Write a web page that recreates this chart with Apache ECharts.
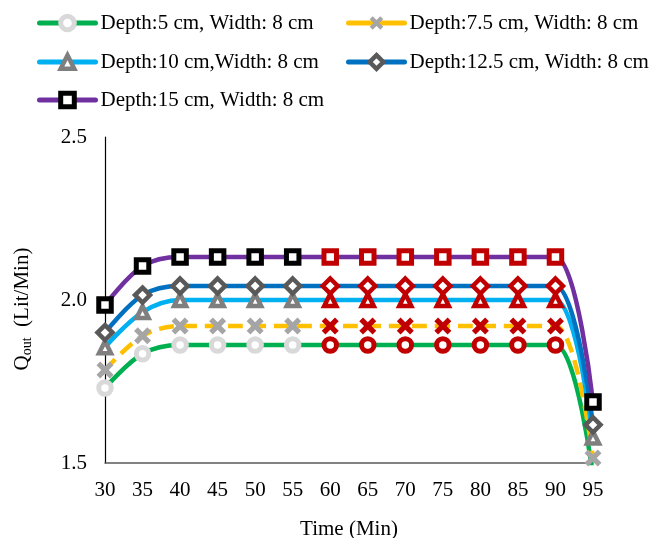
<!DOCTYPE html>
<html>
<head>
<meta charset="utf-8">
<script src="https://cdn.jsdelivr.net/npm/echarts@6/dist/echarts.min.js"></script>
<style>
  html, body { margin: 0; padding: 0; background: #fff; }
  #chart { width: 649px; height: 538px; }
</style>
</head>
<body>
<div id="chart"></div>
<script>
// Time axis categories (minutes)
const timeLabels = ['30', '35', '40', '45', '50', '55', '60', '65', '70', '75', '80', '85', '90', '95'];

// Outflow Q_out (Lit/Min) for each depth, channel width 8 cm
const depth5 = [1.73, 1.835, 1.862, 1.862, 1.862, 1.862, 1.862, 1.862, 1.862, 1.862, 1.862, 1.862, 1.862, 1.46];
const depth7_5 = [1.785, 1.89, 1.92, 1.92, 1.92, 1.92, 1.92, 1.92, 1.92, 1.92, 1.92, 1.92, 1.92, 1.515];
const depth10 = [1.855, 1.963, 2.0, 2.0, 2.0, 2.0, 2.0, 2.0, 2.0, 2.0, 2.0, 2.0, 2.0, 1.578];
const depth12_5 = [1.90, 2.015, 2.043, 2.043, 2.043, 2.043, 2.043, 2.043, 2.043, 2.043, 2.043, 2.043, 2.043, 1.617];
const depth15 = [1.985, 2.104, 2.132, 2.132, 2.132, 2.132, 2.132, 2.132, 2.132, 2.132, 2.132, 2.132, 2.132, 1.687];

// Points from 60 to 90 min are highlighted in red
const highlightFrom = '60';
const highlightTo = '90';

const seriesNames = [
  'Depth:5 cm, Width: 8 cm',
  'Depth:7.5 cm, Width: 8 cm',
  'Depth:10 cm,Width: 8 cm',
  'Depth:12.5 cm, Width: 8 cm',
  'Depth:15 cm, Width: 8 cm'
];

const FONT = '"Liberation Serif", "Times New Roman", serif';
const FS = 21;
const RED = '#C00000';
const crossPath = 'path://M0,2.2 L2.2,0 L5,2.8 L7.8,0 L10,2.2 L7.2,5 L10,7.8 L7.8,10 L5,7.2 L2.2,10 L0,7.8 L2.8,5 Z';

const styles = [
  { line: '#00B050', marker: '#D9D9D9', symbol: 'circle', size: 12.5, border: 5, dashed: false },
  { line: '#FFC000', marker: '#A5A5A5', symbol: crossPath, size: 17, border: 0, dashed: true },
  { line: '#00B0F0', marker: '#7F7F7F', symbol: 'triangle', size: 12, border: 4.5, dashed: false },
  { line: '#0070C0', marker: '#595959', symbol: 'diamond', size: 15, border: 4.5, dashed: false },
  { line: '#7030A0', marker: '#000000', symbol: 'rect', size: 12.5, border: 5, dashed: false }
];

const allData = [depth5, depth7_5, depth10, depth12_5, depth15];

function markerStyle(color, border) {
  return border > 0
    ? { color: '#ffffff', borderColor: color, borderWidth: border }
    : { color: color, borderWidth: 0 };
}

function lineStyleOf(st) {
  return { color: st.line, width: 4.5, type: st.dashed ? [15, 8] : 'solid', cap: 'butt' };
}

const i0 = timeLabels.indexOf(highlightFrom);
const i1 = timeLabels.indexOf(highlightTo);

const series = allData.map((vals, s) => {
  const st = styles[s];
  return {
    name: seriesNames[s],
    type: 'line',
    smooth: 0.35,
    clip: true,
    data: vals.map((v, i) => (i >= i0 && i <= i1)
      ? { value: v, itemStyle: markerStyle(RED, st.border) }
      : v),
    symbol: st.symbol,
    symbolSize: st.size,
    showAllSymbol: true,
    lineStyle: lineStyleOf(st),
    itemStyle: markerStyle(st.marker, st.border),
    emphasis: { disabled: true },
    z: 2 + s
  };
});

// One legend block per entry so each sits in its own row / column
const legendPos = [
  { left: 37, top: 11 }, { left: 346, top: 11 },
  { left: 37, top: 50 }, { left: 346, top: 50 },
  { left: 37, top: 88 }
];
const legends = legendPos.map((p, k) => {
  const st = styles[k];
  return {
    data: [{
      name: seriesNames[k],
      itemStyle: markerStyle(st.marker, st.border),
      lineStyle: { color: st.line, width: 5, type: 'solid', cap: 'round' }
    }],
    left: p.left,
    top: p.top,
    padding: 0,
    itemWidth: 56,
    itemHeight: 17,
    itemGap: 0,
    textStyle: { fontFamily: FONT, fontSize: FS, color: '#000', lineHeight: 24 },
    selectedMode: false
  };
});

const chart = echarts.init(document.getElementById('chart'), null, { renderer: 'canvas' });
chart.setOption({
  animation: false,
  backgroundColor: '#ffffff',
  legend: legends,
  grid: { left: 105, right: 56, top: 137, bottom: 75, containLabel: false, outerBoundsMode: 'none' },
  xAxis: {
    type: 'category',
    data: timeLabels,
    boundaryGap: false,
    name: 'Time (Min)',
    nameLocation: 'middle',
    nameGap: 56,
    nameTextStyle: { fontFamily: FONT, fontSize: FS, color: '#000' },
    axisLine: { lineStyle: { color: '#595959', width: 1.5 } },
    axisTick: { show: false },
    axisLabel: { fontFamily: FONT, fontSize: FS, color: '#000', margin: 17 },
    splitLine: { show: false }
  },
  yAxis: {
    type: 'value',
    min: 1.5,
    max: 2.5,
    interval: 0.5,
    name: '{q|Q}{sub|out}{q|  (Lit/Min)}',
    nameLocation: 'middle',
    nameGap: 71,
    nameRotate: 90,
    nameTextStyle: {
      fontFamily: FONT, fontSize: FS, color: '#000',
      padding: [0, 18, 0, 0],
      rich: {
        q: { fontFamily: FONT, fontSize: FS, color: '#000', lineHeight: 24 },
        sub: { fontFamily: FONT, fontSize: 14, color: '#000', lineHeight: 24, verticalAlign: 'bottom', padding: [9, 0, 0, 0] }
      }
    },
    axisLine: { show: true, lineStyle: { color: '#000', width: 1.2 } },
    axisTick: { show: false },
    axisLabel: { fontFamily: FONT, fontSize: FS, color: '#000', margin: 18, formatter: v => v.toFixed(1) },
    splitLine: { show: false }
  },
  series: series
});
</script>
</body>
</html>
